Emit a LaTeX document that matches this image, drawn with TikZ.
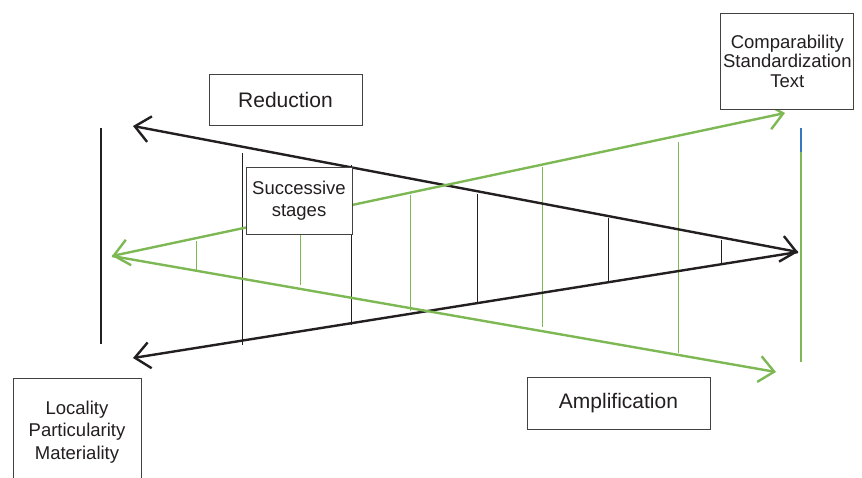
\documentclass[tikz,border=0pt]{standalone}
\usepackage{fontspec}
\setmainfont{Liberation Sans}
\usetikzlibrary{arrows.meta}

\definecolor{inkblack}{RGB}{35,31,32}
\definecolor{leafgreen}{RGB}{126,184,84}
\definecolor{edgeblue}{RGB}{52,120,190}

\tikzset{
  textbox/.style={draw=inkblack!85, line width=0.9pt, fill=white, inner sep=0pt,
    align=center, text=inkblack},
  smalltext/.style={font=\fontsize{18.5}{21}\selectfont},
  blackline/.style={draw=inkblack, line width=2.4pt},
  greenline/.style={draw=leafgreen, line width=2.4pt},
}

\begin{document}
\begin{tikzpicture}[x=1pt,y=-1pt,>={Straight Barb[length=15pt,width=26pt]}]
    \clip (0,0) rectangle (862,477);

    % Draw the end bars
    \draw[inkblack, line width=2.2pt] (100.7,128) -- (100.7,344);
    \draw[leafgreen, line width=2.2pt] (800.7,152) -- (800.7,362);
    \draw[edgeblue, line width=2.2pt] (800.7,128) -- (800.7,152);

    % Draw the stages between the black lines
    \foreach \x/\a/\b in {242/153/345, 351/165/325, 477/194/303, 608/218/282, 721/240/263}
        \draw[inkblack, line width=1pt] (\x,\a) -- (\x,\b);

    % Draw the stages between the green lines
    \foreach \x/\a/\b in {196/241/270, 300/216/285, 410/195/311, 542/167/327, 678/142/353}
        \draw[leafgreen, line width=1pt] (\x,\a) -- (\x,\b);

    % Arrow end points
    \coordinate (redTop) at (133,126);
    \coordinate (redBot) at (133,358);
    \coordinate (redTip) at (798,252);
    \coordinate (ampTip) at (112,256);
    \coordinate (ampTop) at (785,113);
    \coordinate (ampBot) at (776,372);

    % Draw the reduction and amplification arrows
    \draw[blackline, <->] (redTop) -- (redTip);
    \draw[blackline, ->] (redTip) -- (redBot);
    \draw[greenline, <->] (ampTip) -- (ampTop);
    \draw[greenline, ->] (ampTip) -- (ampBot);

    % Add the boxes
    \node[textbox, minimum width=153pt, minimum height=51pt,
        font=\fontsize{21}{24}\selectfont] (reduction) at (285.5,99.5) {Reduction};
    \node[textbox, smalltext, minimum width=106pt, minimum height=67pt,
        font=\fontsize{18.5}{22}\selectfont] (stages) at (299,200.5) {Successive\\stages};
    \node[textbox, smalltext, minimum width=133pt, minimum height=96pt,
        font=\fontsize{18.5}{19.5}\selectfont] (standard) at (787.3,61) {Comparability\\Standardization\\Text};
    \node[textbox, minimum width=183pt, minimum height=52pt,
        font=\fontsize{21}{24}\selectfont] (amplification) at (618.5,403) {Amplification};
    \node[textbox, minimum width=128pt, minimum height=108pt,
        font=\fontsize{18.5}{22.5}\selectfont] (locality) at (77,432) {Locality\\Particularity\\Materiality};

\end{tikzpicture}
\end{document}
